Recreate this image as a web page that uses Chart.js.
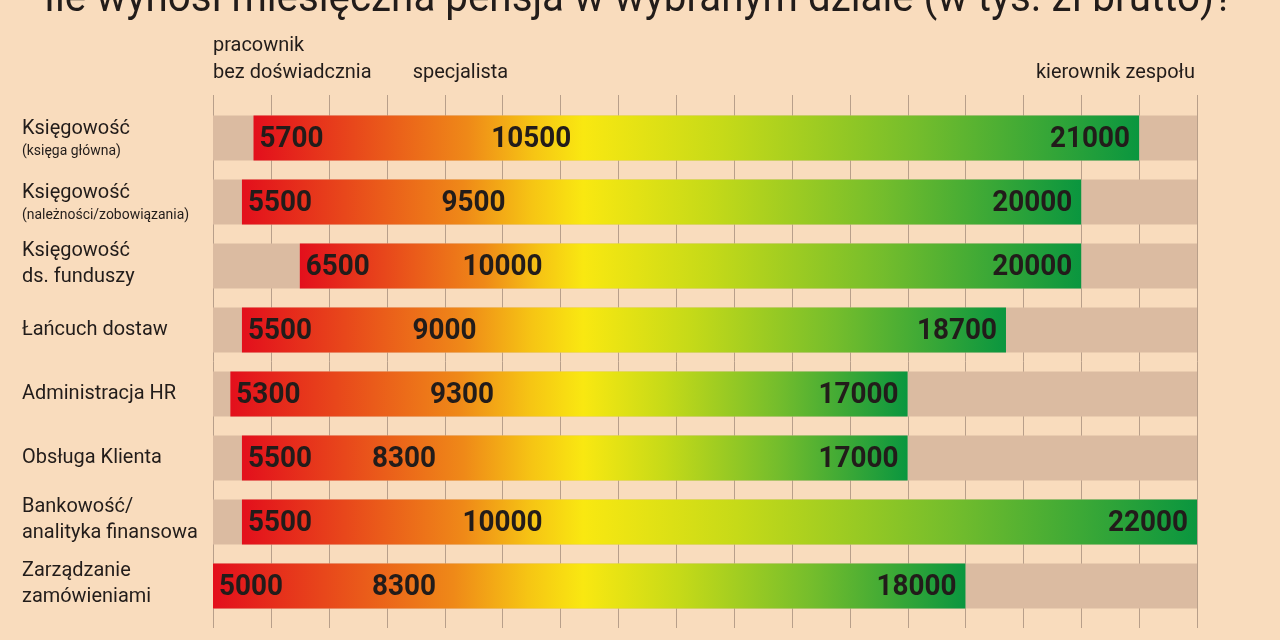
<!DOCTYPE html>
<html lang="pl">
<head>
<meta charset="utf-8">
<title>Pensje w wybranych działach</title>
<script src="https://cdn.jsdelivr.net/npm/chart.js@4.4.1/dist/chart.umd.min.js"></script>
<style>
  html, body { margin: 0; padding: 0; background: #f9dcbd; }
  #wrap { width: 1280px; height: 640px; }
</style>
</head>
<body>
<div id="wrap"><canvas id="salary-chart" width="1280" height="640"></canvas></div>
<script>
// data
const title = 'Ile wynosi miesięczna pensja w wybranym dziale (w tys. zł brutto)?';
const categories = ['Księgowość', 'Księgowość', 'Księgowość\nds. funduszy', 'Łańcuch dostaw', 'Administracja HR', 'Obsługa Klienta', 'Bankowość/\nanalityka finansowa', 'Zarządzanie\nzamówieniami'];
const subLabels = ['(księga główna)', '(należności/zobowiązania)', '', '', '', '', '', ''];
const minPay = [5700, 5500, 6500, 5500, 5300, 5500, 5500, 5000];
const midPay = [10500, 9500, 10000, 9000, 9300, 8300, 10000, 8300];
const maxPay = [21000, 20000, 20000, 18700, 17000, 17000, 22000, 18000];
const payRange = [5000, 22000];
const levelLabels = [['pracownik', 'bez doświadcznia'], ['specjalista'], ['kierownik zespołu']];

// look
const BG = '#f9dcbd';
const TRACK = '#dbbba1';
const GRID = '#b89f8a';
const INK = '#221c1a';
const YELLOW_AT = 11400; // where the gradient turns yellow

function barGradient(context) {
  const chart = context.chart;
  const x = chart.scales.x;
  if (!chart.chartArea || !x) return '#ef8918';
  const i = context.dataIndex;
  const x0 = x.getPixelForValue(minPay[i]);
  const x1 = x.getPixelForValue(maxPay[i]);
  const f = (x.getPixelForValue(YELLOW_AT) - x0) / (x1 - x0);
  const g = chart.ctx.createLinearGradient(x0, 0, x1, 0);
  g.addColorStop(0, '#e30f1c');
  g.addColorStop(f * 0.3, '#e8471b');
  g.addColorStop(f * 0.65, '#ef8918');
  g.addColorStop(f * 0.85, '#f6c514');
  g.addColorStop(f, '#f9e811');
  g.addColorStop(f + (1 - f) * 0.25, '#c6da18');
  g.addColorStop(f + (1 - f) * 0.6, '#74bd2c');
  g.addColorStop(1, '#0a963f');
  return g;
}

function drawText(ctx, text, x, y, font, align, sx) {
  ctx.save();
  ctx.font = font;
  ctx.fillStyle = INK;
  ctx.textBaseline = 'middle';
  ctx.textAlign = align;
  ctx.translate(x, y);
  ctx.scale(sx, 1);
  ctx.fillText(text, 0, 0);
  ctx.restore();
}

const decorPlugin = {
  id: 'decor',
  beforeDraw(chart) {
    const ctx = chart.ctx;
    ctx.save();
    ctx.fillStyle = BG;
    ctx.fillRect(0, 0, chart.width, chart.height);
    ctx.restore();
  },
  beforeDatasetsDraw(chart) {
    // vertical grid, a bit taller than the plot
    const ctx = chart.ctx, x = chart.scales.x, area = chart.chartArea;
    ctx.save();
    ctx.strokeStyle = GRID;
    ctx.lineWidth = 1;
    x.ticks.forEach(t => {
      const px = Math.round(x.getPixelForValue(t.value)) + 0.5;
      ctx.beginPath();
      ctx.moveTo(px, area.top - 11);
      ctx.lineTo(px, area.bottom + 10);
      ctx.stroke();
    });
    ctx.restore();
  },
  afterDatasetsDraw(chart) {
    const ctx = chart.ctx, x = chart.scales.x, y = chart.scales.y;
    const numFont = '700 30px Roboto';
    categories.forEach((c, i) => {
      const cy = y.getPixelForValue(i) + 1;
      drawText(ctx, String(minPay[i]), x.getPixelForValue(minPay[i]) + 6, cy, numFont, 'left', 0.93);
      drawText(ctx, String(midPay[i]), x.getPixelForValue(midPay[i]), cy, numFont, 'center', 0.93);
      drawText(ctx, String(maxPay[i]), x.getPixelForValue(maxPay[i]) - 9, cy, numFont, 'right', 0.93);
    });
  },
  afterDraw(chart) {
    const ctx = chart.ctx, x = chart.scales.x, y = chart.scales.y, area = chart.chartArea;
    const catFont = '21px Roboto';
    const subFont = '15px Roboto';
    // category names on the left
    categories.forEach((c, i) => {
      const cy = y.getPixelForValue(i);
      const lines = c.split('\n');
      if (subLabels[i]) {
        drawText(ctx, lines[0], 22, cy - 9, catFont, 'left', 0.95);
        drawText(ctx, subLabels[i], 22, cy + 13, subFont, 'left', 0.93);
      } else if (lines.length === 2) {
        drawText(ctx, lines[0], 22, cy - 15, catFont, 'left', 0.95);
        drawText(ctx, lines[1], 22, cy + 11, catFont, 'left', 0.95);
      } else {
        drawText(ctx, lines[0], 22, cy, catFont, 'left', 0.95);
      }
    });
    // level headers above the plot
    drawText(ctx, levelLabels[0][0], area.left, 46, catFont, 'left', 0.95);
    drawText(ctx, levelLabels[0][1], area.left, 73, catFont, 'left', 0.95);
    drawText(ctx, levelLabels[1][0], x.getPixelForValue(8450), 73, catFont, 'left', 0.95);
    drawText(ctx, levelLabels[2][0], area.right - 2, 73, catFont, 'right', 0.95);
    // title, cut off by the top edge
    ctx.save();
    ctx.font = '400 42px Roboto';
    ctx.fillStyle = INK;
    ctx.textBaseline = 'alphabetic';
    ctx.textAlign = 'left';
    const w = ctx.measureText(title).width;
    ctx.translate(44, 11);
    ctx.scale(1189 / w, 1);
    ctx.fillText(title, 0, 0);
    ctx.restore();
  }
};

new Chart(document.getElementById('salary-chart'), {
  type: 'bar',
  data: {
    labels: categories,
    datasets: [
      {
        label: 'pensja',
        data: minPay.map((v, i) => [v, maxPay[i]]),
        backgroundColor: barGradient,
        order: 0,
        grouped: false,
        barPercentage: 0.7,
        categoryPercentage: 1,
        borderSkipped: false
      },
      {
        label: 'zakres',
        data: categories.map(() => payRange),
        backgroundColor: TRACK,
        order: 1,
        grouped: false,
        barPercentage: 0.7,
        categoryPercentage: 1,
        borderSkipped: false
      }
    ]
  },
  options: {
    indexAxis: 'y',
    responsive: false,
    animation: false,
    devicePixelRatio: 1,
    layout: { padding: { left: 213, right: 83, top: 106, bottom: 22 } },
    scales: {
      x: { display: false, min: payRange[0], max: payRange[1], ticks: { stepSize: 1000 } },
      y: { display: false }
    },
    plugins: { legend: { display: false }, tooltip: { enabled: false } }
  },
  plugins: [decorPlugin]
});
</script>
</body>
</html>
